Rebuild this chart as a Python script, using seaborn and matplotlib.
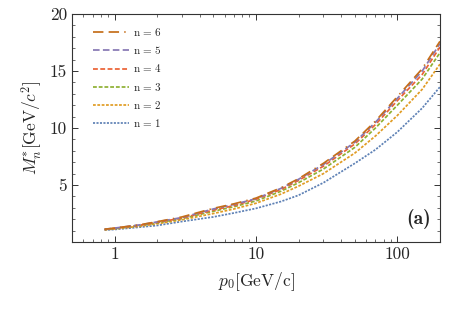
import numpy as np
import pandas as pd
import matplotlib
matplotlib.use("Agg")
import matplotlib.pyplot as plt
from matplotlib.ticker import MultipleLocator
import seaborn as sns

p0 = [0.85, 1, 1.5, 2, 3, 5, 7, 10, 15, 20, 30, 50, 70, 100, 150, 200]
m_n1 = [1.05, 1.10, 1.30, 1.45, 1.80, 2.20, 2.55, 2.95, 3.55, 4.10, 5.20, 6.90, 8.10, 9.65, 11.75, 13.6]
m_n2 = [1.08, 1.15, 1.38, 1.60, 1.95, 2.50, 2.90, 3.40, 4.20, 4.90, 6.00, 7.80, 9.30, 11.10, 13.40, 15.6]
m_n3 = [1.10, 1.18, 1.44, 1.68, 2.05, 2.70, 3.10, 3.60, 4.45, 5.20, 6.40, 8.30, 10.00, 12.00, 14.30, 16.6]
m_n4 = [1.10, 1.20, 1.47, 1.72, 2.10, 2.80, 3.20, 3.75, 4.60, 5.40, 6.65, 8.60, 10.30, 12.40, 14.70, 17.1]
m_n5 = [1.12, 1.22, 1.50, 1.76, 2.15, 2.90, 3.30, 3.80, 4.70, 5.50, 6.80, 8.75, 10.50, 12.60, 15.00, 17.4]
m_n6 = [1.12, 1.22, 1.50, 1.78, 2.20, 2.95, 3.35, 3.85, 4.75, 5.55, 6.90, 8.85, 10.60, 12.75, 15.20, 17.6]
labels = ["n$\\,=\\,$1", "n$\\,=\\,$2", "n$\\,=\\,$3", "n$\\,=\\,$4", "n$\\,=\\,$5", "n$\\,=\\,$6"]
series = [m_n1, m_n2, m_n3, m_n4, m_n5, m_n6]
colors = ["#5E81B5", "#E19C24", "#8FB032", "#EB6235", "#8778B3", "#C56E1A"]
dash_styles = [(1.2, 0.8), (1.6, 0.9), (2.2, 1.1), (2.8, 1.4), (3.8, 1.9), (6, 3, 6, 3, 0.8, 3)]

sns.set_style("ticks")
plt.rcParams["font.family"] = ["cmr10", "DejaVu Serif"]
plt.rcParams["mathtext.fontset"] = "cm"
plt.rcParams["axes.formatter.use_mathtext"] = True

rows = []
for lab, vals in zip(labels, series):
    for x, y in zip(p0, vals):
        rows.append({"p": x, "M": y, "n": lab})
df = pd.DataFrame(rows)

fig = plt.figure(figsize=(4.54, 3.15), dpi=100)
ax = fig.add_axes([0.1586, 0.2317, 0.969 - 0.1586, 0.9556 - 0.2317])

sns.lineplot(data=df, x="p", y="M", hue="n", style="n",
             palette=dict(zip(labels, colors)),
             dashes=dict(zip(labels, dash_styles)),
             hue_order=labels, style_order=labels,
             linewidth=1.25, ax=ax, legend=True)

ax.set_xscale("log")
ax.set_xlim(0.5, 200)
ax.set_ylim(0, 20)
ax.set_xticks([1, 10, 100])
ax.set_xticklabels(["1", "10", "100"])
ax.set_yticks([5, 10, 15, 20])
ax.set_yticklabels(["5", "10", "15", "20"])
ax.yaxis.set_minor_locator(MultipleLocator(1))
ax.tick_params(which="both", direction="in", top=True, right=True, labelsize=12.5, color="#333333")
ax.tick_params(which="major", length=4, width=0.7)
ax.tick_params(which="minor", length=2, width=0.5)
for s in ax.spines.values():
    s.set_linewidth(0.8)
    s.set_color("#333333")

ax.set_xlabel("$p_0$[GeV/c]", fontsize=12.5, labelpad=6)
ax.set_ylabel("$M_n^{*}$[GeV/$c^2$]", fontsize=12.5, labelpad=4)

h, l = ax.get_legend_handles_labels()
leg = ax.legend(h[::-1], l[::-1], loc="upper left", frameon=False, fontsize=8,
                handlelength=3.2, labelspacing=0.55, handletextpad=0.4,
                bbox_to_anchor=(0.03, 0.99))

ax.text(0.975, 0.1, "(a)", transform=ax.transAxes, ha="right", va="center",
        fontsize=14, fontfamily=["cmb10", "DejaVu Serif"], fontweight="bold")

fig.savefig("out.png", dpi=100)
